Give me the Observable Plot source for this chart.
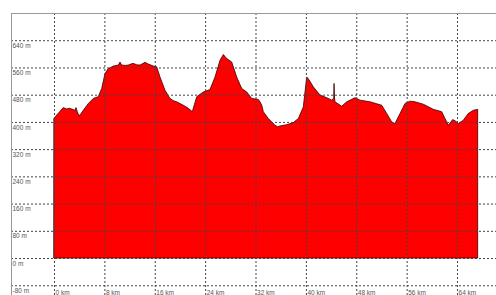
<!DOCTYPE html>
<html>
<head>
<meta charset="utf-8">
<script src="https://cdn.jsdelivr.net/npm/d3@7"></script>
<script src="https://cdn.jsdelivr.net/npm/@observablehq/plot@0.6"></script>
<style>
  html, body { margin: 0; padding: 0; background: #fff; }
</style>
</head>
<body>
<div id="chart"></div>
<script>
// Distance along route (km)
const km = [0, 0.43, 1.0, 1.48, 2.02, 2.4, 2.81, 3.33, 3.49, 3.7, 3.97, 4.3, 4.65, 5.45, 6.24, 7.03, 7.57, 8.10, 8.62, 9.0, 9.42, 10.21, 10.48, 10.75, 11.3, 11.80, 12.2, 12.59, 13.1, 13.66, 14.45, 14.98, 15.77, 16.31, 16.83, 17.63, 18.42, 19.0, 19.49, 20.53, 21.33, 21.96, 22.66, 23.71, 24.77, 25.57, 26.36, 26.89, 27.43, 28.22, 29.01, 29.81, 30.60, 31.40, 32.45, 32.71, 33.0, 33.24, 34.03, 35.10, 35.5, 35.89, 36.95, 38.00, 38.80, 39.59, 40.13, 40.38, 41.18, 42.24, 43.31, 44.10, 44.42, 44.47, 44.55, 44.62, 45.69, 46.48, 47.80, 48.59, 50.18, 52.04, 52.83, 53.63, 54.15, 54.95, 55.74, 56.53, 57.33, 58.65, 60.23, 61.57, 62.09, 62.61, 63.31, 63.8, 64.20, 65.00, 65.79, 66.59, 67.28];
// Elevation (m)
const elev = [411, 420, 432, 442, 438, 440, 438, 434, 442, 430, 417, 425, 434, 454, 469, 474, 498, 542, 557, 560, 564, 567, 576, 567, 566, 567, 570, 572, 568, 567, 575, 570, 564, 562, 532, 493, 469, 462, 459, 449, 440, 430, 474, 488, 495, 532, 581, 598, 586, 576, 532, 498, 488, 469, 466, 459, 449, 430, 410, 390, 386, 388, 392, 398, 410, 444, 532, 527, 503, 479, 471, 464, 470, 513, 470, 459, 446, 459, 471, 464, 459, 449, 425, 400, 395, 425, 454, 461, 459, 452, 437, 430, 410, 390, 407, 402, 395, 405, 425, 434, 437];

const yTicks = [-80, 0, 80, 160, 240, 320, 400, 480, 560, 640];
const yLabels = ["-80 m", "0 m", "80 m", "160 m", "240 m", "320 m", "400 m", "480 m", "560 m", "640 m"];
const xTicks = [0, 8, 16, 24, 32, 40, 48, 56, 64];
const xLabels = ["0 km", "8 km", "16 km", "24 km", "32 km", "40 km", "48 km", "56 km", "64 km"];

const profile = km.map((k, i) => ({km: k, elev: elev[i]}));
const yTickData = yTicks.map((v, i) => ({v, label: yLabels[i]}));
const xTickData = xTicks.map((v, i) => ({v, label: xLabels[i]}));

const chart = Plot.plot({
  width: 496,
  height: 295,
  marginLeft: 11,
  marginRight: 0,
  marginTop: 13,
  marginBottom: 0,
  x: {domain: [-6.83, 70.19], axis: null},
  y: {domain: [-108.6, 720], axis: null},
  style: {background: "#fff", fontFamily: "'Liberation Sans', Arial, sans-serif"},
  marks: [
    Plot.areaY(profile, {x: "km", y: "elev", fill: "#ff0000", stroke: "#3a0000", strokeWidth: 0.8}),
    Plot.gridX(xTicks, {stroke: "#444", strokeOpacity: 1, strokeDasharray: "2,2", strokeWidth: 1}),
    Plot.gridY(yTicks, {stroke: "#444", strokeOpacity: 1, strokeDasharray: "2,2", strokeWidth: 1}),
    Plot.frame({anchor: "top", stroke: "#999"}),
    Plot.frame({anchor: "left", stroke: "#999"}),
    Plot.text(yTickData, {y: "v", text: "label", frameAnchor: "left", textAnchor: "start", dx: 1, dy: 5, fontSize: 6.5, fill: "#555"}),
    Plot.text(xTickData, {x: "v", y: () => yTicks[0], text: "label", textAnchor: "start", dx: 1, dy: 7, fontSize: 6.5, fill: "#555"})
  ]
});
document.getElementById("chart").appendChild(chart);
</script>
</body>
</html>
